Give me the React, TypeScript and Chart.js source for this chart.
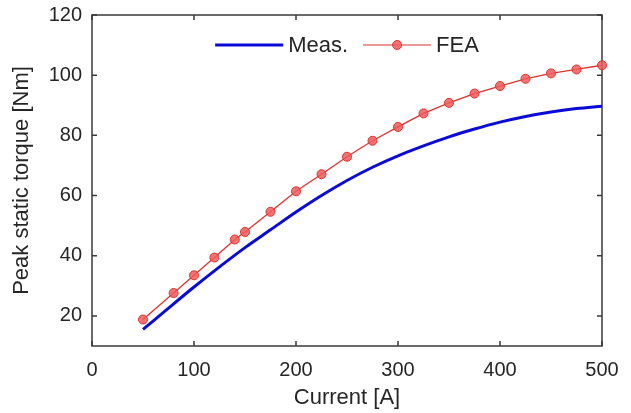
import React, { useEffect, useRef } from "react";
import { Chart, registerables } from "chart.js";

Chart.register(...registerables);

// Measured peak static torque (smooth curve)
const measCurrent = [50, 75, 100, 125, 150, 175, 200, 225, 250, 275, 300, 325, 350, 375, 400, 425, 450, 475, 500];
const measTorque = [15.5, 22.6, 29.6, 36.3, 42.7, 48.6, 54.5, 60.0, 65.0, 69.4, 73.2, 76.5, 79.5, 82.1, 84.4, 86.3, 87.8, 88.9, 89.7];

// Finite element results
const feaCurrent = [50, 80, 100, 120, 140, 150, 175, 200, 225, 250, 275, 300, 325, 350, 375, 400, 425, 450, 475, 500];
const feaTorque = [18.8, 27.6, 33.5, 39.4, 45.4, 47.9, 54.6, 61.4, 67.1, 72.9, 78.2, 82.8, 87.3, 90.8, 93.9, 96.4, 98.8, 100.6, 101.9, 103.3];

const xTicks = [0, 100, 200, 300, 400, 500];
const yTicks = [20, 40, 60, 80, 100, 120];

const seriesNames = ["Meas.", "FEA"];
const xTitle = "Current [A]";
const yTitle = "Peak static torque [Nm]";

const FONT = "'Liberation Sans', Arial, Helvetica, sans-serif";
const TEXT = "#262626";
const AXIS = "#3a3a3a";
const BLUE = "#0b0bd9";
const RED = "#e0312f";
const RED_FILL = "rgba(238, 92, 92, 0.85)";

// Box frame with inward tick marks on all four sides
const framePlugin = {
  id: "frame",
  beforeDatasetsDraw(chart: any) {
    const { ctx, chartArea: a, scales } = chart;
    const len = 5;
    ctx.save();
    ctx.strokeStyle = AXIS;
    ctx.lineWidth = 1.5;
    ctx.strokeRect(a.left, a.top, a.right - a.left, a.bottom - a.top);
    ctx.beginPath();
    for (const v of xTicks) {
      const px = scales.x.getPixelForValue(v);
      ctx.moveTo(px, a.bottom);
      ctx.lineTo(px, a.bottom - len);
      ctx.moveTo(px, a.top);
      ctx.lineTo(px, a.top + len);
    }
    for (const v of yTicks) {
      const py = scales.y.getPixelForValue(v);
      ctx.moveTo(a.left, py);
      ctx.lineTo(a.left + len, py);
      ctx.moveTo(a.right, py);
      ctx.lineTo(a.right - len, py);
    }
    ctx.stroke();
    ctx.restore();
  },
};

// Horizontal legend inside the plot, centred at the top
const legendPlugin = {
  id: "inlineLegend",
  afterDraw(chart: any) {
    const { ctx, chartArea: a } = chart;
    const lineLen = 68;
    const textGap = 5;
    const itemGap = 15;
    ctx.save();
    ctx.font = `22px ${FONT}`;
    const w0 = ctx.measureText(seriesNames[0]).width;
    const w1 = ctx.measureText(seriesNames[1]).width;
    const total = lineLen + textGap + w0 + itemGap + lineLen + textGap + w1;
    let x = (a.left + a.right) / 2 - total / 2;
    const y = a.top + 30;

    ctx.strokeStyle = BLUE;
    ctx.lineWidth = 3;
    ctx.beginPath();
    ctx.moveTo(x, y);
    ctx.lineTo(x + lineLen, y);
    ctx.stroke();
    x += lineLen + textGap;
    ctx.fillStyle = TEXT;
    ctx.textBaseline = "middle";
    ctx.textAlign = "left";
    ctx.fillText(seriesNames[0], x, y + 1);
    x += w0 + itemGap;

    ctx.strokeStyle = RED;
    ctx.lineWidth = 1.2;
    ctx.beginPath();
    ctx.moveTo(x, y);
    ctx.lineTo(x + lineLen, y);
    ctx.stroke();
    ctx.beginPath();
    ctx.arc(x + lineLen / 2, y, 4.5, 0, Math.PI * 2);
    ctx.fillStyle = RED_FILL;
    ctx.fill();
    ctx.lineWidth = 1;
    ctx.stroke();
    x += lineLen + textGap;
    ctx.fillStyle = TEXT;
    ctx.fillText(seriesNames[1], x, y + 1);
    ctx.restore();
  },
};

export default function App() {
  const canvasRef = useRef<HTMLCanvasElement | null>(null);

  useEffect(() => {
    if (!canvasRef.current) return;
    const chart = new Chart(canvasRef.current, {
      type: "line",
      data: {
        datasets: [
          {
            label: seriesNames[0],
            data: measCurrent.map((x, i) => ({ x, y: measTorque[i] })),
            borderColor: BLUE,
            backgroundColor: BLUE,
            borderWidth: 3,
            pointRadius: 0,
            cubicInterpolationMode: "monotone",
            clip: false,
          },
          {
            label: seriesNames[1],
            data: feaCurrent.map((x, i) => ({ x, y: feaTorque[i] })),
            borderColor: RED,
            backgroundColor: RED_FILL,
            borderWidth: 1.3,
            pointRadius: 4.5,
            pointBorderWidth: 1,
            pointBorderColor: RED,
            pointBackgroundColor: RED_FILL,
            clip: false,
          },
        ],
      } as any,
      options: {
        animation: false,
        responsive: false,
        maintainAspectRatio: false,
        layout: { padding: { left: 5, top: 15, right: 29, bottom: 0 } },
        plugins: {
          legend: { display: false },
          tooltip: { enabled: false },
        },
        scales: {
          x: {
            type: "linear",
            min: 0,
            max: 500,
            grid: { display: false, drawTicks: false },
            border: { display: false },
            afterBuildTicks: (s: any) => {
              s.ticks = xTicks.map((v) => ({ value: v }));
            },
            afterFit: (s: any) => {
              s.height = 67;
              s.paddingLeft = 0;
              s.paddingRight = 0;
            },
            ticks: {
              padding: 12,
              color: TEXT,
              font: { family: FONT, size: 20 },
              maxRotation: 0,
            },
            title: {
              display: true,
              text: xTitle,
              color: TEXT,
              font: { family: FONT, size: 22 },
              padding: { top: 0, bottom: 2 },
            },
          },
          y: {
            type: "linear",
            min: 10,
            max: 120,
            grid: { display: false, drawTicks: false },
            border: { display: false },
            afterBuildTicks: (s: any) => {
              s.ticks = yTicks.map((v) => ({ value: v }));
            },
            afterFit: (s: any) => {
              s.width = 87;
              s.paddingTop = 0;
              s.paddingBottom = 0;
            },
            ticks: {
              padding: 10,
              color: TEXT,
              font: { family: FONT, size: 20 },
            },
            title: {
              display: true,
              text: yTitle,
              color: TEXT,
              font: { family: FONT, size: 22 },
              padding: { top: 4, bottom: 0 },
            },
          },
        },
      },
      plugins: [framePlugin, legendPlugin],
    });
    return () => chart.destroy();
  }, []);

  return (
    <div style={{ position: "fixed", left: 0, top: 0, width: 631, height: 413, background: "#fff" }}>
      <canvas ref={canvasRef} width={631} height={413} style={{ width: 631, height: 413, display: "block" }} />
    </div>
  );
}
